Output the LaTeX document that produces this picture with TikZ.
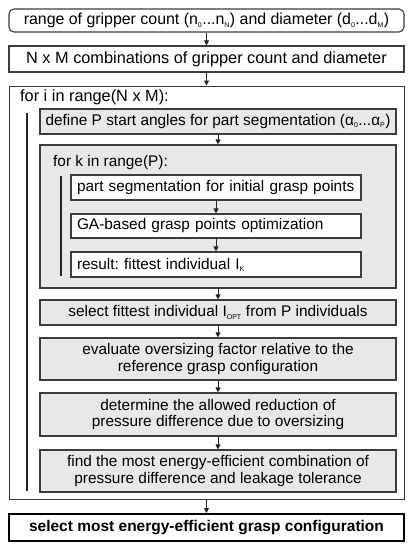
\documentclass[tikz,border=0pt]{standalone}
\usepackage{fontspec}
\setmainfont{Liberation Sans}
\usetikzlibrary{arrows.meta,calc}
\definecolor{boxgray}{RGB}{232,232,232}
\definecolor{linegray}{RGB}{60,60,60}
\newcommand{\lowidx}[1]{\textsubscript{\fontsize{7}{7}\selectfont #1}}
\frenchspacing

\begin{document}
\begin{tikzpicture}[x=1pt, y=-1pt,
		every node/.style={font=\fontsize{15.4}{16.5}\selectfont},
		outer/.style={font=\fontsize{16.3}{17.5}\selectfont},
		blk/.style={draw=linegray, line width=1.1pt, inner sep=0pt, align=center},
		gblk/.style={blk, fill=boxgray},
		lblk/.style={blk, fill=white, align=left, text width=#1},
		loopbox/.style={draw=linegray, line width=0.9pt, inner sep=0pt},
		flow/.style={-{Triangle[length=5pt,width=5pt]}, draw=black!85, line width=0.9pt},
		bar/.style={black!85, line width=2.4pt}]
				\useasboundingbox (0,0) rectangle (415,550);
				
				\node[blk, outer, font=\fontsize{15.9}{17}\selectfont, rounded corners=5pt, minimum width=395, minimum height=23] (range) at (206.5,20.5) {range of gripper count (n\lowidx{0}...n\lowidx{N}) and diameter (d\lowidx{0}...d\lowidx{M})};
				\node[blk, outer, minimum width=395, minimum height=26] (comb) at (206.5,59) {N x M combinations of gripper count and diameter};
				
				\node[loopbox, minimum width=395, minimum height=413] (loopi) at (206.5,292.5) {};
				\node[outer, anchor=west, inner sep=0pt] (loopilbl) at (20,97) {for i in range(N x M):};
				\draw[bar] (27,113) coordinate (bari1) -- (27,491) coordinate (bari2);
				
				\node[gblk, minimum width=356, minimum height=25] (angles) at (218,121.5) {define P start angles for part segmentation (α\lowidx{0}...α\lowidx{P})};
				\node[gblk, minimum width=356, minimum height=143] (loopk) at (218,216.5) {};
				\node[anchor=west, inner sep=0pt] (loopklbl) at (53,163) {for k in range(P):};
				\draw[bar] (61,176) coordinate (bark1) -- (61,276) coordinate (bark2);
				
				\node[lblk=278pt, inner xsep=6pt, minimum height=25] (seg) at (216,187.5) {part segmentation for initial grasp points};
				\node[lblk=278pt, inner xsep=6pt, minimum height=24] (ga) at (216,226) {GA-based grasp points optimization};
				\node[lblk=278pt, inner xsep=6pt, minimum height=25] (fit) at (216,264.5) {result: fittest individual I\lowidx{K}};
				
				\node[gblk, minimum width=356, minimum height=25] (opt) at (218,312.5) {select fittest individual I\lowidx{OPT} from P individuals};
				\node[gblk, minimum width=356, minimum height=42] (oversz) at (218,359) {evaluate oversizing factor relative to the\\reference grasp configuration};
				\node[gblk, minimum width=356, minimum height=43] (reduc) at (218,414.5) {determine the allowed reduction of\\pressure difference due to oversizing};
				\node[gblk, minimum width=356, minimum height=42] (combo) at (218,471) {find the most energy-efficient combination of\\pressure difference and leakage tolerance};
				
				\node[blk, draw=black, line width=2pt, minimum width=395, minimum height=27, font=\fontsize{15.5}{17}\selectfont\bfseries] (final) at (206.5,527.5) {select most energy-efficient grasp configuration};
				
				\draw[flow] (range) -- (comb);
				\draw[flow] (comb) -- (loopi);
				\draw[flow] (angles) -- (loopk);
				\draw[flow] (seg) -- (ga);
				\draw[flow] (ga) -- (fit);
				\draw[flow] (loopk) -- (opt);
				\draw[flow] (opt) -- (oversz);
				\draw[flow] (oversz) -- (reduc);
				\draw[flow] (reduc) -- (combo);
				\draw[flow] (loopi) -- (final);
			\end{tikzpicture}
\end{document}
